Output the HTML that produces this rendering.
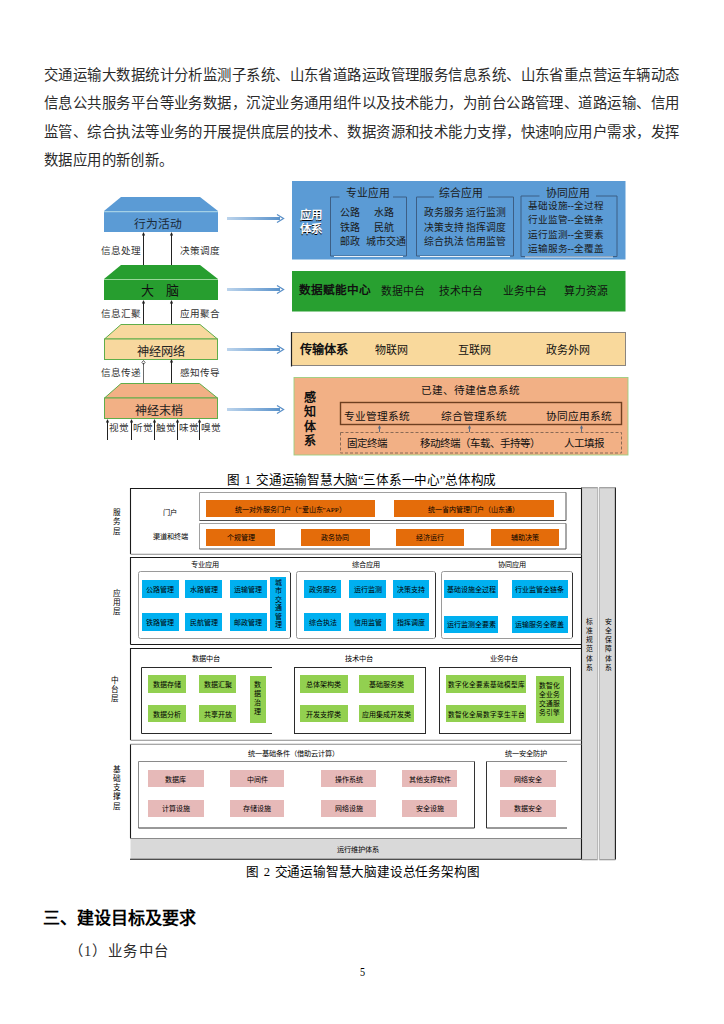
<!DOCTYPE html>
<html lang="zh-CN"><head><meta charset="utf-8">
<style>
html,body{margin:0;padding:0}
body{width:724px;height:1024px;background:#fff;position:relative;overflow:hidden;font-family:"Liberation Serif",serif;color:#000}
.a{position:absolute;white-space:nowrap}
.c{position:absolute;display:flex;align-items:center;justify-content:center;white-space:nowrap}
.j{position:absolute;text-align:justify;text-align-last:justify;white-space:nowrap}
.p{font-size:14.4px;line-height:20px;color:#2b2b2b}
.t{color:#000;font-size:7px}
.s{font-family:"Liberation Sans",sans-serif}
</style></head><body>
<!-- paragraph -->
<div class="j p" style="left:44px;top:64.5px;width:635px">交通运输大数据统计分析监测子系统、山东省道路运政管理服务信息系统、山东省重点营运车辆动态</div>
<div class="j p" style="left:44px;top:93.3px;width:635px">信息公共服务平台等业务数据，沉淀业务通用组件以及技术能力，为前台公路管理、道路运输、信用</div>
<div class="j p" style="left:44px;top:122px;width:635px">监管、综合执法等业务的开展提供底层的技术、数据资源和技术能力支撑，快速响应用户需求，发挥</div>
<div class="a p" style="left:44px;top:149.6px;letter-spacing:0.4px">数据应用的新创新。</div>


<!-- ============ FIGURE 1 ============ -->
<svg class="a" style="left:0;top:0" width="724" height="1024" viewBox="0 0 724 1024">
<defs>
<linearGradient id="ar" x1="0" x2="1" y1="0" y2="0"><stop offset="0" stop-color="#bcd4ec"/><stop offset="0.5" stop-color="#8ab3dc"/><stop offset="1" stop-color="#5a92ca"/></linearGradient>
<marker id="up" viewBox="0 0 6 6" refX="3" refY="1" markerWidth="4" markerHeight="4" orient="auto-start-reverse"><path d="M0 5 L3 0 L6 5z" fill="#222"/></marker>
</defs>
<!-- left shapes -->
<polygon points="121,197 200,197 218,211 104,211" fill="#5b9bd5"/>
<rect x="104" y="211" width="114" height="21" fill="#5b9bd5"/>
<line x1="104" y1="211.6" x2="218" y2="211.6" stroke="#a3d0e6" stroke-width="1.2"/>
<polygon points="121,265 200,265 218,279 104,279" fill="#279e2f"/>
<rect x="104" y="279" width="114" height="21" fill="#279e2f"/>
<line x1="104" y1="279.5" x2="218" y2="279.5" stroke="#9ad89a" stroke-width="1.2"/>
<polygon points="121,324.5 200,324.5 217.5,339 104.5,339" fill="#f8d89e" stroke="#5fae4a" stroke-width="1"/>
<rect x="104.5" y="339" width="113" height="20.5" fill="#f8d89e" stroke="#5fae4a" stroke-width="1"/>
<polygon points="121,383.5 199.5,383.5 217.5,398 104.5,398" fill="#f2b085" stroke="#5fae4a" stroke-width="1"/>
<rect x="104.5" y="398" width="113" height="20.5" fill="#f2b085" stroke="#5fae4a" stroke-width="1"/>
<!-- vertical arrows -->
<g stroke="#222" stroke-width="1">
<line x1="143.5" y1="265" x2="143.5" y2="234"/><line x1="171.5" y1="265" x2="171.5" y2="234"/>
<line x1="143.5" y1="324" x2="143.5" y2="302"/><line x1="171.5" y1="324" x2="171.5" y2="302"/>
<line x1="143.5" y1="383" x2="143.5" y2="363" stroke-width="0.8" stroke="#444"/><line x1="171.5" y1="383" x2="171.5" y2="361"/>
<line x1="107.5" y1="440" x2="107.5" y2="421"/><line x1="131.5" y1="440" x2="131.5" y2="421"/>
<line x1="154.5" y1="440" x2="154.5" y2="421"/><line x1="177.5" y1="440" x2="177.5" y2="421"/>
<line x1="199.5" y1="440" x2="199.5" y2="421"/>
</g>
<g fill="#222">
<path d="M141.9 235.4 L143.5 232 L145.1 235.4z"/><path d="M169.9 235.4 L171.5 232 L173.1 235.4z"/>
<path d="M141.9 303.4 L143.5 300 L145.1 303.4z"/><path d="M169.9 303.4 L171.5 300 L173.1 303.4z"/>
<path d="M141.9 362.4 L143.5 360.5 L145.1 362.4 L143.5 364.3z" fill="none" stroke="#222" stroke-width="0.7"/><path d="M169.9 362.4 L171.5 359 L173.1 362.4z"/>
<path d="M105.9 422.4 L107.5 419 L109.1 422.4z"/><path d="M129.9 422.4 L131.5 419 L133.1 422.4z"/>
<path d="M152.9 422.4 L154.5 419 L156.1 422.4z"/><path d="M175.9 422.4 L177.5 419 L179.1 422.4z"/>
<path d="M197.9 422.4 L199.5 419 L201.1 422.4z"/>
</g>
<!-- horizontal arrows -->
<g fill="url(#ar)">
<rect x="227" y="217" width="53" height="3"/>
<rect x="227" y="288" width="53" height="3"/>
<rect x="227" y="348" width="53" height="3"/>
<rect x="227" y="408" width="53" height="3"/>
</g>
<g stroke="#5a90c8" stroke-width="1.3" fill="none">
<path d="M277 214.5 L283.5 218.5 L277 222.5"/>
<path d="M277 285.5 L283.5 289.5 L277 293.5"/>
<path d="M277 345.5 L283.5 349.5 L277 353.5"/>
<path d="M277 405.5 L283.5 409.5 L277 413.5"/>
</g>
<!-- right boxes -->
<rect x="292" y="181" width="333.5" height="78.5" fill="#5b9bd5"/>
<g stroke="#3d5f85" stroke-width="1" fill="none">
<path d="M339.5 197 H330.5 V256 H406.5 V197 H393"/>
<path d="M434 197 H416.5 V256 H513.5 V197 H488"/>
<path d="M539.5 196 H521 V256.5 H617 V196 H596"/>
</g>
<g stroke="#e8f0f8" stroke-width="1.2"><line x1="334" y1="256.5" x2="403" y2="256.5"/><line x1="420" y1="256.5" x2="510" y2="256.5"/><line x1="525" y1="257" x2="613" y2="257"/></g>
<rect x="292" y="271" width="333.5" height="40.5" fill="#28a030"/>
<rect x="291.5" y="332.5" width="334" height="33" fill="#f9d99c" stroke="#8a8580" stroke-width="1"/>
<line x1="291.5" y1="332" x2="291.5" y2="366.5" stroke="#222" stroke-width="1.2"/>
<rect x="294" y="377.5" width="334" height="77.5" fill="#f2b085" stroke="#9bcf7f" stroke-width="0.9"/>
<rect x="340.5" y="402.5" width="281" height="22" fill="none" stroke="#6e3f20" stroke-width="1.4"/>
<rect x="340.5" y="432.5" width="281" height="20.5" fill="none" stroke="#8a6a55" stroke-width="1" stroke-dasharray="3,2"/>
<g stroke="#5a6f8a" stroke-width="1"><line x1="379.5" y1="432" x2="379.5" y2="426"/><line x1="469.5" y1="432" x2="469.5" y2="426"/><line x1="581.5" y1="432" x2="581.5" y2="426"/></g>
<g fill="#5a6f8a"><path d="M377.9 428.4 L379.5 425 L381.1 428.4z"/><path d="M467.9 428.4 L469.5 425 L471.1 428.4z"/><path d="M579.9 428.4 L581.5 425 L583.1 428.4z"/></g>
</svg>
<!-- left texts -->
<div class="c" style="left:101px;top:213px;width:114px;height:19px;font-size:11.8px;color:#1a2a3a">行为活动</div>
<div class="a" style="left:140.7px;top:283.5px;font-size:13px;line-height:14px;color:#111">大</div><div class="a" style="left:165.9px;top:283.5px;font-size:13px;line-height:14px;color:#111">脑</div>
<div class="c" style="left:104px;top:341px;width:114px;height:19px;font-size:12.2px;color:#222">神经网络</div>
<div class="c" style="left:102px;top:400px;width:114px;height:19px;font-size:12px;color:#222">神经末梢</div>
<div class="a" style="left:101px;top:244px;font-size:9.6px;line-height:14px;color:#333">信息处理</div>
<div class="a" style="left:180px;top:244px;font-size:9.6px;line-height:14px;color:#333">决策调度</div>
<div class="a" style="left:101px;top:307px;font-size:9.6px;line-height:14px;color:#333">信息汇聚</div>
<div class="a" style="left:180px;top:307px;font-size:9.6px;line-height:14px;color:#333">应用聚合</div>
<div class="a" style="left:101px;top:366px;font-size:9.6px;line-height:14px;color:#333">信息传递</div>
<div class="a" style="left:180px;top:366px;font-size:9.6px;line-height:14px;color:#333">感知传导</div>
<div class="a" style="left:109px;top:421px;font-size:9.6px;line-height:14px;color:#333">视觉</div>
<div class="a" style="left:133px;top:421px;font-size:9.6px;line-height:14px;color:#333">听觉</div>
<div class="a" style="left:156px;top:421px;font-size:9.6px;line-height:14px;color:#333">触觉</div>
<div class="a" style="left:179px;top:421px;font-size:9.6px;line-height:14px;color:#333">味觉</div>
<div class="a" style="left:201px;top:421px;font-size:9.6px;line-height:14px;color:#333">嗅觉</div>
<!-- right texts -->
<div class="a" style="left:299.5px;top:207.5px;font-size:11.5px;line-height:14px;color:#fff;font-weight:bold;text-shadow:0.5px 0.6px 0.6px #000">应用<br>体系</div>
<div class="a" style="left:345.5px;top:187px;font-size:10.8px;line-height:13px;color:#1a1a1a">专业应用</div>
<div class="a" style="left:439px;top:187px;font-size:10.8px;line-height:13px;color:#1a1a1a">综合应用</div>
<div class="a" style="left:545.5px;top:186.5px;font-size:10.8px;line-height:13px;color:#1a1a1a">协同应用</div>
<div class="a" style="left:339.5px;top:206px;font-size:10px;line-height:14.5px;color:#1a1a1a">公路<br>铁路<br>邮政</div>
<div class="a" style="left:374px;top:206px;font-size:10px;line-height:14.5px;color:#1a1a1a">水路<br>民航</div>
<div class="a" style="left:365.5px;top:235px;font-size:10px;line-height:14.5px;color:#1a1a1a">城市交通</div>
<div class="a" style="left:423.5px;top:206px;font-size:9.8px;line-height:14.5px;color:#1a1a1a">政务服务 运行监测<br>决策支持 指挥调度<br>综合执法 信用监管</div>
<div class="a" style="left:527.5px;top:198.5px;font-size:9.6px;line-height:14.5px;color:#1a1a1a">基础设施--全过程<br>行业监管--全链条<br>运行监测--全要素<br>运输服务--全覆盖</div>
<div class="a" style="left:298.5px;top:284px;font-size:11.6px;line-height:14px;color:#111;font-weight:bold">数据赋能中心</div>
<div class="a" style="left:380.5px;top:283.5px;font-size:10.8px;line-height:14px;color:#111">数据中台</div>
<div class="a" style="left:438.5px;top:283.5px;font-size:10.8px;line-height:14px;color:#111">技术中台</div>
<div class="a" style="left:502.5px;top:283.5px;font-size:10.8px;line-height:14px;color:#111">业务中台</div>
<div class="a" style="left:563.5px;top:283.5px;font-size:10.8px;line-height:14px;color:#111">算力资源</div>
<div class="a" style="left:299.5px;top:343px;font-size:12.2px;line-height:14px;color:#111;font-weight:bold">传输体系</div>
<div class="a" style="left:374.5px;top:343px;font-size:11px;line-height:14px;color:#111">物联网</div>
<div class="a" style="left:458px;top:343px;font-size:11px;line-height:14px;color:#111">互联网</div>
<div class="a" style="left:546px;top:343px;font-size:11px;line-height:14px;color:#111">政务外网</div>
<div class="a" style="left:304px;top:391px;font-size:12px;line-height:14.4px;color:#111;font-weight:bold">感<br>知<br>体<br>系</div>
<div class="a" style="left:421px;top:383.5px;font-size:10.6px;line-height:14px;color:#111">已建、待建信息系统</div>
<div class="a" style="left:343.5px;top:408.5px;font-size:10.7px;line-height:14px;color:#111">专业管理系统</div>
<div class="a" style="left:441px;top:408.5px;font-size:10.7px;line-height:14px;color:#111">综合管理系统</div>
<div class="a" style="left:546px;top:408.5px;font-size:10.7px;line-height:14px;color:#111">协同应用系统</div>
<div class="a" style="left:347px;top:437px;font-size:10.5px;line-height:14px;color:#111">固定终端</div>
<div class="a" style="left:420px;top:437px;font-size:10.5px;line-height:14px;color:#111">移动终端（车载、手持等）</div>
<div class="a" style="left:564px;top:437px;font-size:10.5px;line-height:14px;color:#111">人工填报</div>


<!-- ============ FIGURE 2 ============ -->
<svg class="a" style="left:0;top:0" width="724" height="1024" viewBox="0 0 724 1024">
<rect x="130.5" y="838.5" width="451" height="21" fill="#d9d9d9"/>
<rect x="581.5" y="487.5" width="16.5" height="372.5" fill="#d9d9d9"/>
<rect x="599" y="487.5" width="16.5" height="372.5" fill="#d9d9d9"/>
<g stroke="#1a1a1a" stroke-width="1.1" fill="none">
<path d="M130.5 554 V488.5 H581.5"/>
<path d="M130.5 644.5 V557.5 H581.5 M130.5 644.5 H581.5"/>
<path d="M130.5 740 V648.5 H581.5"/>
<path d="M130.5 838.5 V744.3"/>
<path d="M130 859.3 H581.5"/>
<path d="M581.5 487.5 V859.5"/>
<path d="M615.4 487.5 V859.5"/>
</g>
<g stroke="#8a8a8a" stroke-width="1.1" fill="none">
<path d="M130.5 554.2 H581.5"/>
<path d="M130.5 740.2 H581.5"/>
<path d="M130.5 744.3 H581.5"/>
<path d="M130.5 838.5 H581.5"/>
<path d="M581.5 487.8 H597.8 M599.2 487.8 H615.4"/>
<path d="M581.5 859.8 H597.8 M599.2 859.8 H615.4"/>
</g>
<g stroke="#b4b4b4" stroke-width="1" fill="none"><path d="M597.6 488 V860 M599.4 488 V860"/></g>
<!-- S1 inner boxes -->
<g fill="none" stroke="#a0a0a0" stroke-width="1">
<path d="M199.5 520.5 V492.5 H566"/>
<path d="M199.5 549 V523.5 H566"/>
</g>
<g stroke="#505050" stroke-width="1" fill="none">
<path d="M199.5 520.5 H566 V492.5"/><path d="M199.5 549 H566 V523.5"/>
</g>
<!-- S2 groups -->
<g fill="none" stroke="#9a9a9a" stroke-width="1">
<rect x="138.5" y="571.5" width="152" height="67" rx="2"/>
<rect x="296.5" y="571.5" width="139" height="67" rx="2"/>
<rect x="441.5" y="571.5" width="131" height="67" rx="2"/>
</g>
<g fill="none" stroke="#333" stroke-width="1">
<path d="M290.5 573 V637"/><path d="M435.5 573 V637"/><path d="M572.5 573 V637"/>
</g>
<!-- S3 groups -->
<g fill="none" stroke="#2a2a2a" stroke-width="1">
<path d="M272 667.5 H141.5 V733.5 H272"/>
<rect x="294.5" y="667.5" width="131" height="66"/>
<rect x="439.5" y="667.5" width="131" height="66"/>
</g>
<!-- S4 groups -->
<g fill="none" stroke="#8a8a8a" stroke-width="1">
<path d="M138.5 828 V761.5 H474.5"/>
<path d="M567 761.5 H486.5"/>
</g>
<g fill="none" stroke="#333" stroke-width="1">
<path d="M138.5 828 H474.5 V761.5"/>
<path d="M486.5 761.5 V828 H567"/>
</g>
</svg>
<div class="a t" style="left:112.5px;top:508px;font-size:7.6px;line-height:9.3px;white-space:normal;width:7.6px">服务层</div>
<div class="a t" style="left:112.5px;top:588.5px;font-size:7.6px;line-height:9.3px;white-space:normal;width:7.6px">应用层</div>
<div class="a t" style="left:110.5px;top:675.5px;font-size:7.6px;line-height:9.3px;white-space:normal;width:7.6px">中台层</div>
<div class="a t" style="left:112.5px;top:764.5px;font-size:7.6px;line-height:9.3px;white-space:normal;width:7.6px">基础支撑层</div>
<div class="a t" style="left:586px;top:616.5px;font-size:6.8px;line-height:9.3px;white-space:normal;width:6.8px">标准规范体系</div>
<div class="a t" style="left:605px;top:616.5px;font-size:6.8px;line-height:9.3px;white-space:normal;width:6.8px">安全保障体系</div>
<div class="a t" style="left:163px;top:508px;font-size:7.2px;line-height:10px">门户</div>
<div class="a t" style="left:152.5px;top:531.5px;font-size:7.2px;line-height:10px">渠道和终端</div>
<div class="c t" style="left:206px;top:500.2px;width:169px;height:16.8px;background:#e46c0a;font-size:7px">统一对外服务门户（“爱山东”APP）</div>
<div class="c t" style="left:393.8px;top:500.2px;width:160.0px;height:16.8px;background:#e46c0a;font-size:7px">统一省内管理门户（山东通）</div>
<div class="c t" style="left:206px;top:528.7px;width:69.1px;height:17.1px;background:#e46c0a;font-size:7px">个规管理</div>
<div class="c t" style="left:301.4px;top:528.7px;width:68.2px;height:17.1px;background:#e46c0a;font-size:7px">政务协同</div>
<div class="c t" style="left:396.2px;top:528.7px;width:67.7px;height:17.1px;background:#e46c0a;font-size:7px">经济运行</div>
<div class="c t" style="left:490.5px;top:528.7px;width:68.4px;height:17.1px;background:#e46c0a;font-size:7px">辅助决策</div>
<div class="a t" style="left:191px;top:559.5px;font-size:7.2px;line-height:10px">专业应用</div>
<div class="a t" style="left:351.5px;top:559.5px;font-size:7.2px;line-height:10px">综合应用</div>
<div class="a t" style="left:497.5px;top:559.5px;font-size:7.2px;line-height:10px">协同应用</div>
<div class="c t" style="left:141.7px;top:579.8px;width:37.1px;height:18.2px;background:#00b0f0;font-size:7px">公路管理</div>
<div class="c t" style="left:141.7px;top:613.3px;width:37.1px;height:18.0px;background:#00b0f0;font-size:7px">铁路管理</div>
<div class="c t" style="left:185.2px;top:579.8px;width:37.1px;height:18.2px;background:#00b0f0;font-size:7px">水路管理</div>
<div class="c t" style="left:185.2px;top:613.3px;width:37.1px;height:18.0px;background:#00b0f0;font-size:7px">民航管理</div>
<div class="c t" style="left:229.8px;top:579.8px;width:37.1px;height:18.2px;background:#00b0f0;font-size:7px">运输管理</div>
<div class="c t" style="left:229.8px;top:613.3px;width:37.1px;height:18.0px;background:#00b0f0;font-size:7px">邮政管理</div>
<div class="c t" style="left:270.4px;top:577.3px;width:15.7px;height:54px;background:#00b0f0;font-size:7px;line-height:8.6px;white-space:normal;text-align:center">城<br>市<br>交<br>通<br>管<br>理</div>
<div class="c t" style="left:304.3px;top:579.8px;width:37.1px;height:18.2px;background:#00b0f0;font-size:7px">政务服务</div>
<div class="c t" style="left:304.3px;top:613.3px;width:37.1px;height:18.0px;background:#00b0f0;font-size:7px">综合执法</div>
<div class="c t" style="left:348.9px;top:579.8px;width:37.5px;height:18.2px;background:#00b0f0;font-size:7px">运行监测</div>
<div class="c t" style="left:348.9px;top:613.3px;width:37.5px;height:18.0px;background:#00b0f0;font-size:7px">信用监管</div>
<div class="c t" style="left:392.5px;top:579.8px;width:36.9px;height:18.2px;background:#00b0f0;font-size:7px">决策支持</div>
<div class="c t" style="left:392.5px;top:613.3px;width:36.9px;height:18.0px;background:#00b0f0;font-size:7px">指挥调度</div>
<div class="c t" style="left:444.4px;top:580.3px;width:54.1px;height:17.4px;background:#00b0f0;font-size:7px">基础设施全过程</div>
<div class="c t" style="left:444.4px;top:615.5px;width:54.1px;height:17.5px;background:#00b0f0;font-size:7px">运行监测全要素</div>
<div class="c t" style="left:512.3px;top:580.3px;width:55.3px;height:17.4px;background:#00b0f0;font-size:7px">行业监管全链条</div>
<div class="c t" style="left:512.3px;top:615.5px;width:55.3px;height:17.5px;background:#00b0f0;font-size:7px">运输服务全覆盖</div>
<div class="a t" style="left:192px;top:654px;font-size:7.2px;line-height:10px">数据中台</div>
<div class="a t" style="left:344.5px;top:654px;font-size:7.2px;line-height:10px">技术中台</div>
<div class="a t" style="left:489.5px;top:654px;font-size:7.2px;line-height:10px">业务中台</div>
<div class="c t" style="left:148.3px;top:675px;width:37.3px;height:17.7px;background:#92d050;font-size:7px">数据存储</div>
<div class="c t" style="left:148.3px;top:704.9px;width:37.3px;height:17.6px;background:#92d050;font-size:7px">数据分析</div>
<div class="c t" style="left:198.8px;top:675px;width:37.6px;height:17.7px;background:#92d050;font-size:7px">数据汇聚</div>
<div class="c t" style="left:198.8px;top:704.9px;width:37.6px;height:17.6px;background:#92d050;font-size:7px">共享开放</div>
<div class="c t" style="left:299.8px;top:675px;width:48.2px;height:17.7px;background:#92d050;font-size:7px">总体架构类</div>
<div class="c t" style="left:299.8px;top:704.9px;width:48.2px;height:17.6px;background:#92d050;font-size:7px">开发支撑类</div>
<div class="c t" style="left:359.2px;top:675px;width:55.2px;height:17.7px;background:#92d050;font-size:7px">基础服务类</div>
<div class="c t" style="left:359.2px;top:704.9px;width:55.2px;height:17.6px;background:#92d050;font-size:7px">应用集成开发类</div>
<div class="c t" style="left:250.2px;top:675.5px;width:15.5px;height:47px;background:#92d050;font-size:7px;line-height:9px;white-space:normal;text-align:center">数<br>据<br>治<br>理</div>
<div class="c t" style="left:446.4px;top:675px;width:79.9px;height:17.7px;background:#92d050;font-size:6.6px">数字化全要素基础模型库</div>
<div class="c t" style="left:446.4px;top:704.9px;width:79.9px;height:17.6px;background:#92d050;font-size:6.6px">数智化全局数字孪生平台</div>
<div class="c t" style="left:535.7px;top:675.5px;width:28.1px;height:47px;background:#92d050;font-size:6.8px;line-height:9.2px;white-space:normal;text-align:center">数智化<br>全业务<br>交通服<br>务引擎</div>
<div class="a t" style="left:247.5px;top:748.5px;font-size:7.2px;line-height:10px">统一基础条件（借助云计算）</div>
<div class="a t" style="left:504.5px;top:748.5px;font-size:7.2px;line-height:10px">统一安全防护</div>
<div class="c t" style="left:148.3px;top:770.1px;width:55.3px;height:17.4px;background:#e6b9b8;font-size:7px">数据库</div>
<div class="c t" style="left:148.3px;top:799.9px;width:55.3px;height:17.1px;background:#e6b9b8;font-size:7px">计算设施</div>
<div class="c t" style="left:229.8px;top:770.1px;width:54.5px;height:17.4px;background:#e6b9b8;font-size:7px">中间件</div>
<div class="c t" style="left:229.8px;top:799.9px;width:54.5px;height:17.1px;background:#e6b9b8;font-size:7px">存储设施</div>
<div class="c t" style="left:321.4px;top:770.1px;width:54.7px;height:17.4px;background:#e6b9b8;font-size:7px">操作系统</div>
<div class="c t" style="left:321.4px;top:799.9px;width:54.7px;height:17.1px;background:#e6b9b8;font-size:7px">网络设施</div>
<div class="c t" style="left:402.4px;top:770.1px;width:54.4px;height:17.4px;background:#e6b9b8;font-size:7px">其他支撑软件</div>
<div class="c t" style="left:402.4px;top:799.9px;width:54.4px;height:17.1px;background:#e6b9b8;font-size:7px">安全设施</div>
<div class="c t" style="left:500.4px;top:770.1px;width:55.2px;height:17.4px;background:#e6b9b8;font-size:7px">网络安全</div>
<div class="c t" style="left:500.4px;top:799.9px;width:55.2px;height:17.1px;background:#e6b9b8;font-size:7px">数据安全</div>
<div class="a t" style="left:336.5px;top:844.5px;font-size:7.2px;line-height:10px">运行维护体系</div>

<!-- captions / headings -->
<div class="a" style="left:226.5px;top:472px;font-size:12.6px;line-height:16px;word-spacing:2.6px;letter-spacing:-0.27px">图 1 交通运输智慧大脑“三体系一中心”总体构成</div>
<div class="a" style="left:246px;top:864.2px;font-size:12.6px;line-height:16px;word-spacing:1.9px;letter-spacing:-0.2px">图 2 交通运输智慧大脑建设总任务架构图</div>
<div class="a s" style="left:43px;top:907.5px;font-size:17px;line-height:22px;font-weight:bold">三、建设目标及要求</div>
<div class="a p" style="left:68.5px;top:940.5px;letter-spacing:1.4px">（1）业务中台</div>
<div class="a" style="left:359.5px;top:964.5px;font-size:12px;line-height:14px;transform:scaleX(0.85);transform-origin:0 0">5</div>
</body></html>
